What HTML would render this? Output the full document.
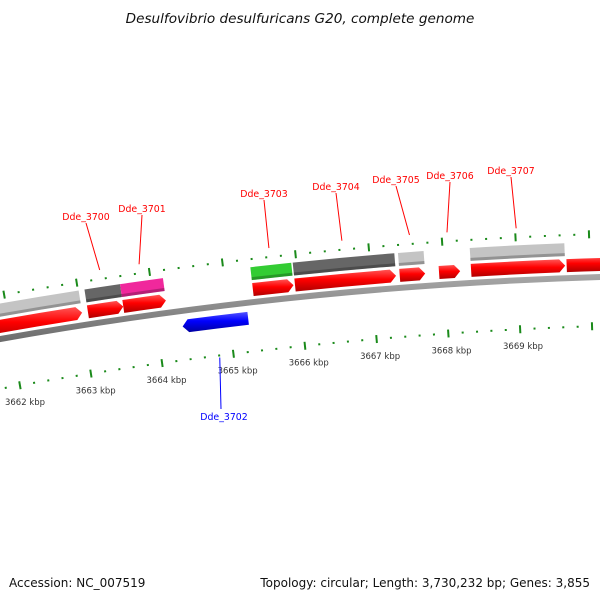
<!DOCTYPE html>
<html><head><meta charset="utf-8"><style>
html,body{margin:0;padding:0;background:#fff;}
svg{display:block;font-family:"DejaVu Sans","Liberation Sans",sans-serif;}
</style></head><body>
<svg id="map" width="600" height="600" viewBox="0 0 600 600">
<defs>
<linearGradient id="gBack" x1="0" y1="0" x2="0" y2="1"><stop offset="0" stop-color="#aaa"/><stop offset="0.5" stop-color="#808080"/><stop offset="1" stop-color="#555"/></linearGradient>
</defs>
<text x="300" y="23" text-anchor="middle" font-size="13.6" font-style="italic" fill="#111">Desulfovibrio desulfuricans G20, complete genome</text>
<text x="9" y="587" font-size="12" fill="#111">Accession: NC_007519</text>
<text x="590" y="587" text-anchor="end" font-size="12" fill="#111">Topology: circular; Length: 3,730,232 bp; Genes: 3,855</text>
<g id="layer"></g>
</svg>
<script>
// data (kbp)
const geneNames = ["", "Dde_3700", "Dde_3701", "Dde_3702", "Dde_3703", "Dde_3704", "Dde_3705", "Dde_3706", "Dde_3707", ""];
const geneStarts = [3661.3, 3663.09, 3663.58, 3664.35, 3665.37, 3665.95, 3667.39, 3667.93, 3668.37, 3669.68];
const geneEnds = [3663.01, 3663.58, 3664.17, 3665.26, 3665.93, 3667.34, 3667.74, 3668.22, 3669.66, 3671.5];
const geneStrands = [1, 1, 1, -1, 1, 1, 1, 1, 1, 1];
const cogColors = ["#c4c4c4", "#666666", "#f0289c", "", "#33cc33", "#666666", "#c4c4c4", "", "#c4c4c4", ""];
const tickStart = 3661, tickEnd = 3671;
const tickLabels = ["3662 kbp", "3663 kbp", "3664 kbp", "3665 kbp", "3666 kbp", "3667 kbp", "3668 kbp", "3669 kbp"];
const tickLabelValues = [3662, 3663, 3664, 3665, 3666, 3667, 3668, 3669];
// layout for label text placement
const labelPos = [null, [86, 220], [142, 212], [224, 420], [264, 197], [336, 190], [396, 183], [450, 179], [511, 174], null];

const CX = 728, CY = 4445, PHI0 = -0.1203, K = 0.01746;
const R_BACK = 4170, R_FWD_IN = 4176, R_FWD_OUT = 4189, R_COG_IN = 4192, R_COG_OUT = 4205;
const R_REV_IN = 4148, R_REV_OUT = 4161, R_OT = 4213, R_IT = 4121;
const NS = "http://www.w3.org/2000/svg";
const layer = document.getElementById('layer');
function ang(p){ return PHI0 + (p - 3665) * K; }
function pt(r, p){ const a = ang(p); return [CX + r * Math.sin(a), CY - r * Math.cos(a)]; }
function f(v){ return v[0].toFixed(2) + ' ' + v[1].toFixed(2); }
function mk(tag, attrs){ const e = document.createElementNS(NS, tag); for (const k in attrs) e.setAttribute(k, attrs[k]); layer.appendChild(e); return e; }
function grad(id, c1, c2, c3){
  const defs = document.querySelector('defs');
  const g = document.createElementNS(NS, 'linearGradient');
  g.setAttribute('id', id); g.setAttribute('x1', '0'); g.setAttribute('y1', '0'); g.setAttribute('x2', '0'); g.setAttribute('y2', '1');
  [[0, c1], [0.45, c2], [1, c3]].forEach(s => { const st = document.createElementNS(NS, 'stop'); st.setAttribute('offset', s[0]); st.setAttribute('stop-color', s[1]); g.appendChild(st); });
  defs.appendChild(g);
}
grad('gRed', '#ff5555', '#ff0000', '#b00000');
grad('gBlue', '#5555ff', '#0000ff', '#0000a0');
function arcBand(p1, p2, r1, r2){
  return 'M' + f(pt(r2, p1)) + ' A' + r2 + ' ' + r2 + ' 0 0 1 ' + f(pt(r2, p2)) + ' L' + f(pt(r1, p2)) + ' A' + r1 + ' ' + r1 + ' 0 0 0 ' + f(pt(r1, p1)) + ' Z';
}
function arrow(p1, p2, r1, r2, strand){
  const head = 0.08, rm = (r1 + r2) / 2;
  if (strand > 0){
    const h = Math.max(p1, p2 - head);
    return 'M' + f(pt(r2, p1)) + ' A' + r2 + ' ' + r2 + ' 0 0 1 ' + f(pt(r2, h)) + ' L' + f(pt(rm, p2)) + ' L' + f(pt(r1, h)) + ' A' + r1 + ' ' + r1 + ' 0 0 0 ' + f(pt(r1, p1)) + ' Z';
  }
  const h = Math.min(p2, p1 + head);
  return 'M' + f(pt(rm, p1)) + ' L' + f(pt(r2, h)) + ' A' + r2 + ' ' + r2 + ' 0 0 1 ' + f(pt(r2, p2)) + ' L' + f(pt(r1, p2)) + ' A' + r1 + ' ' + r1 + ' 0 0 0 ' + f(pt(r1, h)) + ' Z';
}
// backbone
let e = mk('path', {d: arcBand(tickStart - 1, tickEnd + 1, R_BACK - 3, R_BACK + 3), fill: 'url(#gBack)'});


// ticks
for (let i = 0; i <= (tickEnd - tickStart) * 5; i++){
  const p = tickStart + i * 0.2, major = (i % 5 === 0);
  [R_OT, R_IT].forEach((r, j) => {
    const a = pt(r - (major ? 4 : 1), p), b = pt(r + (major ? 4 : 1), p);
    const t = mk('line', {x1: a[0], y1: a[1], x2: b[0], y2: b[1], stroke: '#1a8a1a', 'stroke-width': 2});
    
    
  });
}
tickLabels.forEach((lab, i) => {
  const q = pt(R_IT - 18, tickLabelValues[i]);
  const t = mk('text', {x: q[0] + 2, y: q[1] + 2, 'text-anchor': 'middle', 'font-size': 8.5, fill: '#333'});
  t.textContent = lab;
  
  
});
// genes
geneStarts.forEach((s, i) => {
  const en = geneEnds[i], st = geneStrands[i];
  if (cogColors[i]){
    const c = mk('path', {d: arcBand(s, en, R_COG_IN, R_COG_OUT), fill: cogColors[i]});
    
    
    const sh = mk('path', {d: arcBand(s, en, R_COG_IN, R_COG_IN + 3), fill: '#000', 'fill-opacity': 0.25});
    
    
  }
  const r1 = st > 0 ? R_FWD_IN : R_REV_IN, r2 = st > 0 ? R_FWD_OUT : R_REV_OUT;
  const g = mk('path', {d: arrow(s, en, r1, r2, st), fill: st > 0 ? 'url(#gRed)' : 'url(#gBlue)'});
  
  
  if (geneNames[i] && labelPos[i]){
    const mid = (s + en) / 2, col = st > 0 ? '#ff0000' : '#0000ff';
    const lp = labelPos[i];
    const a = st > 0 ? pt(R_OT + 9, mid) : pt(R_IT - 2, mid);
    const bY = st > 0 ? lp[1] + 3 : lp[1] - 11;
    const l = mk('line', {x1: a[0], y1: a[1], x2: lp[0] - (st > 0 ? 0 : 3), y2: bY, stroke: col, 'stroke-width': 1});
    
    
    const t = mk('text', {x: lp[0], y: lp[1], 'text-anchor': 'middle', 'font-size': 9.4, fill: col});
    t.textContent = geneNames[i];
    
    
  }
});
</script>
</body></html>
